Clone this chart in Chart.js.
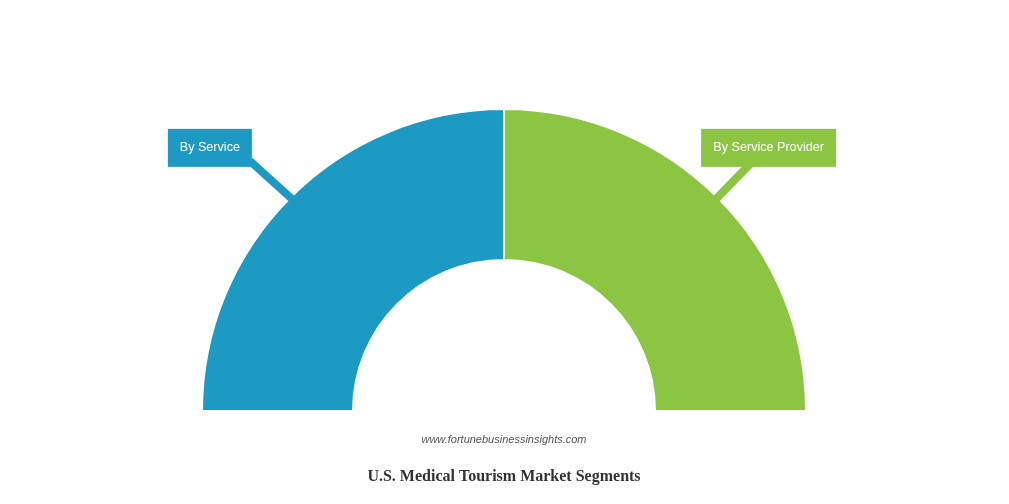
<!DOCTYPE html>
<html>
<head>
<meta charset="utf-8">
<script src="https://cdn.jsdelivr.net/npm/chart.js@4.4.0/dist/chart.umd.min.js"></script>
<style>
  html, body { margin: 0; padding: 0; background: #fff; }
  #wrap { position: relative; width: 1009px; height: 504px; }
</style>
</head>
<body>
<div id="wrap"><canvas id="segChart" width="1009" height="504"></canvas></div>
<script>
const segmentos = ["By Service", "By Service Provider"];
const valores = [50, 50];
const colores = ["#1d9ac3", "#8cc541"];
const tituloGrafico = "U.S. Medical Tourism Market Segments";
const fuente = "www.fortunebusinessinsights.com";

// etiquetas con flecha + textos de abajo
const etiquetasPlugin = {
    id: "etiquetas",
    afterDatasetsDraw(chart) {
        const ctx = chart.ctx;
        const meta = chart.getDatasetMeta(0);
        ctx.save();
        ctx.font = "12.6px 'Liberation Sans', Arial, sans-serif";
        meta.data.forEach((arc, i) => {
            const p = arc.getProps(["x", "y", "startAngle", "endAngle", "outerRadius"], true);
            const mid = (p.startAngle + p.endAngle) / 2;
            const px = p.x + Math.cos(mid) * (p.outerRadius - 2);
            const py = p.y + Math.sin(mid) * (p.outerRadius - 2);
            const izq = Math.cos(mid) < 0;

            // linea hacia la caja (la caja tapa el final)
            ctx.strokeStyle = colores[i];
            ctx.lineWidth = 8;
            ctx.beginPath();
            ctx.moveTo(px, py);
            ctx.lineTo(px + (izq ? -42 : 37), py - 38);
            ctx.stroke();

            const texto = segmentos[i];
            const w = Math.round(ctx.measureText(texto).width + 24);
            const h = 38;
            const bx = izq ? px - 40 - w : px - 15;
            const by = py - 32 - h;
            ctx.fillStyle = colores[i];
            ctx.fillRect(bx, by, w, h);
            ctx.fillStyle = "#ffffff";
            ctx.textAlign = "center";
            ctx.textBaseline = "middle";
            ctx.fillText(texto, bx + w / 2, by + h / 2);
        });

        ctx.textAlign = "center";
        ctx.textBaseline = "middle";
        ctx.fillStyle = "#555555";
        ctx.font = "italic 11px 'Liberation Sans', Arial, sans-serif";
        ctx.fillText(fuente, 504, 440);
        ctx.fillStyle = "#333333";
        ctx.font = "bold 16px 'Liberation Serif', 'Times New Roman', serif";
        ctx.fillText(tituloGrafico, 504, 477);
        ctx.restore();
    }
};

function dibujarSegmentos() {
    const canvas = document.getElementById("segChart");
    const ctx = canvas.getContext("2d");
    new Chart(ctx, {
        type: "doughnut",
        data: {
            labels: segmentos,
            datasets: [{
                data: valores,
                backgroundColor: colores,
                borderColor: "#ffffff",
                borderWidth: 2,
                hoverOffset: 0
            }]
        },
        options: {
            responsive: false,
            animation: false,
            rotation: -90,
            circumference: 180,
            cutout: "50%",
            layout: { padding: { left: 200, right: 201, top: 108, bottom: 92 } },
            plugins: {
                legend: { display: false },
                tooltip: { enabled: false }
            }
        },
        plugins: [etiquetasPlugin]
    });
}

dibujarSegmentos();
</script>
</body>
</html>
